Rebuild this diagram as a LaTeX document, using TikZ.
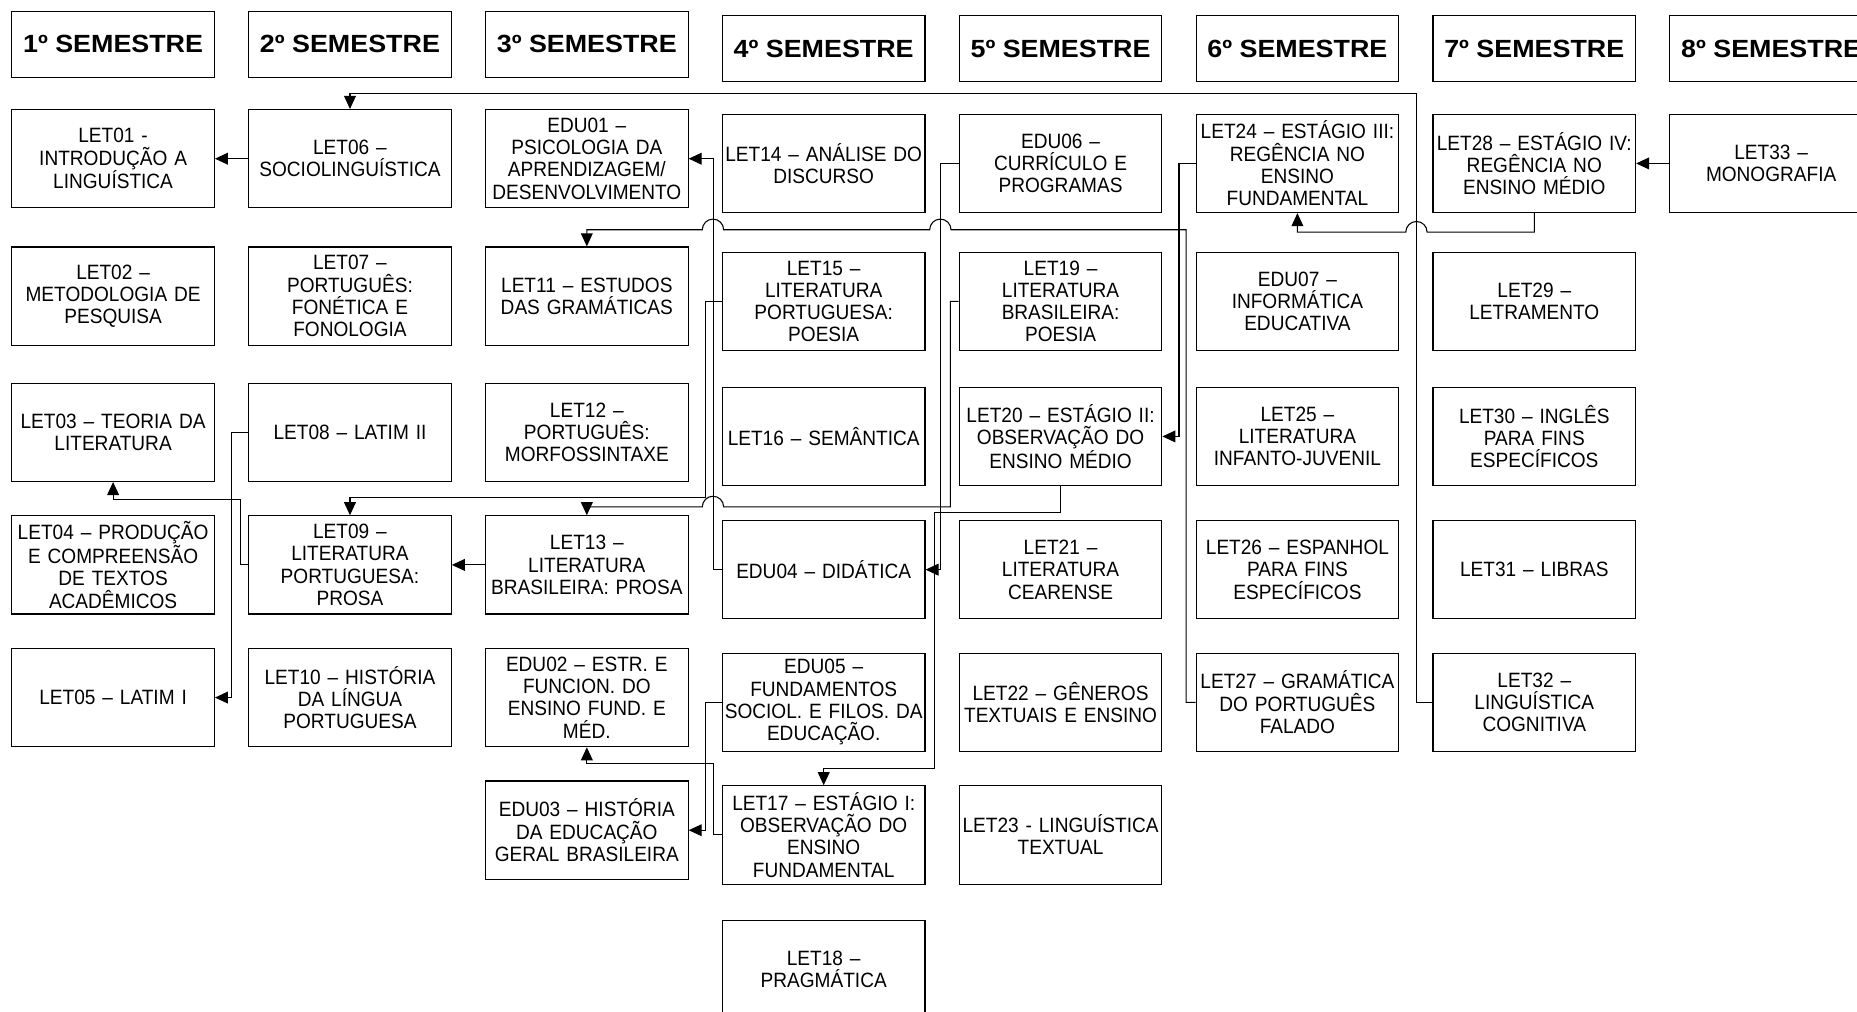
\documentclass[tikz,border=0pt]{standalone}
\usepackage{fontspec}
\setmainfont{Liberation Sans}
\newfontfamily\discfont{Liberation Sans}[FakeStretch=0.92]
\newfontfamily\semfont{Liberation Sans}[FakeStretch=1.08]
\usetikzlibrary{arrows.meta}

\begin{document}
\begin{tikzpicture}[x=1pt,y=-1pt,
    disc/.style={draw,line width=1pt,minimum width=171pt,minimum height=83pt,text width=168pt,inner xsep=1.5pt,align=center,font=\discfont\fontsize{17.5}{18.8}\selectfont},
    sem/.style={draw,line width=1pt,minimum width=171pt,minimum height=56pt,font=\semfont\bfseries\fontsize{21}{24}\selectfont},
    arr/.style={line width=0.9pt,-{Triangle[length=11pt,width=10pt]}}]
                \useasboundingbox (0,0) rectangle (1568,854);
                \clip (0,0) rectangle (1568,854);
                \foreach \n/\x/\y in {1/95.5/37.5,2/295.5/37.5,3/495.5/37.5,4/695.5/41,5/895.5/41,6/1095.5/41,7/1295.5/41,8/1495.5/41}
                    \node[sem] (sem\n) at (\x,\y) {{\n}º SEMESTRE};
                % 1o semestre
                \node[disc] (let01) at (95.5,134) {LET01 -\\INTRODUÇÃO A\\LINGUÍSTICA};
                \node[disc] (let02) at (95.5,250) {LET02 –\\METODOLOGIA DE\\PESQUISA};
                \node[disc] (let03) at (95.5,365) {LET03 – TEORIA DA\\LITERATURA};
                \node[disc] (let04) at (95.5,477) {LET04 – PRODUÇÃO\\E COMPREENSÃO\\DE TEXTOS\\ACADÊMICOS};
                \node[disc] (let05) at (95.5,589) {LET05 – LATIM I};
                % 2o semestre
                \node[disc] (let06) at (295.5,134) {LET06 –\\SOCIOLINGUÍSTICA};
                \node[disc] (let07) at (295.5,250) {LET07 –\\PORTUGUÊS:\\FONÉTICA E\\FONOLOGIA};
                \node[disc] (let08) at (295.5,365) {LET08 – LATIM II};
                \node[disc] (let09) at (295.5,477) {LET09 –\\LITERATURA\\PORTUGUESA:\\PROSA};
                \node[disc] (let10) at (295.5,589) {LET10 – HISTÓRIA\\DA LÍNGUA\\PORTUGUESA};
                % 3o semestre
                \node[disc] (edu01) at (495.5,134) {EDU01 –\\PSICOLOGIA DA\\APRENDIZAGEM/\\DESENVOLVIMENTO};
                \node[disc] (let11) at (495.5,250) {LET11 – ESTUDOS\\DAS GRAMÁTICAS};
                \node[disc] (let12) at (495.5,365) {LET12 –\\PORTUGUÊS:\\MORFOSSINTAXE};
                \node[disc] (let13) at (495.5,477) {LET13 –\\LITERATURA\\BRASILEIRA: PROSA};
                \node[disc] (edu02) at (495.5,589) {EDU02 – ESTR. E\\FUNCION. DO\\ENSINO FUND. E\\MÉD.};
                \node[disc] (edu03) at (495.5,701) {EDU03 – HISTÓRIA\\DA EDUCAÇÃO\\GERAL BRASILEIRA};
                % 4o semestre
                \node[disc] (let14) at (695.5,138) {LET14 – ANÁLISE DO\\DISCURSO};
                \node[disc] (let15) at (695.5,254.5) {LET15 –\\LITERATURA\\PORTUGUESA:\\POESIA};
                \node[disc] (let16) at (695.5,368.5) {LET16 – SEMÂNTICA};
                \node[disc] (edu04) at (695.5,481) {EDU04 – DIDÁTICA};
                \node[disc] (edu05) at (695.5,593) {EDU05 –\\FUNDAMENTOS\\SOCIOL. E FILOS. DA\\EDUCAÇÃO.};
                \node[disc] (let17) at (695.5,705) {LET17 – ESTÁGIO I:\\OBSERVAÇÃO DO\\ENSINO\\FUNDAMENTAL};
                \node[disc] (let18) at (695.5,818.5) {LET18 –\\PRAGMÁTICA};
                % 5o semestre
                \node[disc] (edu06) at (895.5,138) {EDU06 –\\CURRÍCULO E\\PROGRAMAS};
                \node[disc] (let19) at (895.5,254.5) {LET19 –\\LITERATURA\\BRASILEIRA:\\POESIA};
                \node[disc] (let20) at (895.5,368.5) {LET20 – ESTÁGIO II:\\OBSERVAÇÃO DO\\ENSINO MÉDIO};
                \node[disc] (let21) at (895.5,481) {LET21 –\\LITERATURA\\CEARENSE};
                \node[disc] (let22) at (895.5,593) {LET22 – GÊNEROS\\TEXTUAIS E ENSINO};
                \node[disc] (let23) at (895.5,705) {LET23 - LINGUÍSTICA\\TEXTUAL};
                % 6o semestre
                \node[disc] (let24) at (1095.5,138) {LET24 – ESTÁGIO III:\\REGÊNCIA NO\\ENSINO\\FUNDAMENTAL};
                \node[disc] (edu07) at (1095.5,254.5) {EDU07 –\\INFORMÁTICA\\EDUCATIVA};
                \node[disc] (let25) at (1095.5,368.5) {LET25 –\\LITERATURA\\INFANTO-JUVENIL};
                \node[disc] (let26) at (1095.5,481) {LET26 – ESPANHOL\\PARA FINS\\ESPECÍFICOS};
                \node[disc] (let27) at (1095.5,593) {LET27 – GRAMÁTICA\\DO PORTUGUÊS\\FALADO};
                % 7o semestre
                \node[disc] (let28) at (1295.5,138) {LET28 – ESTÁGIO IV:\\REGÊNCIA NO\\ENSINO MÉDIO};
                \node[disc] (let29) at (1295.5,254.5) {LET29 –\\LETRAMENTO};
                \node[disc] (let30) at (1295.5,368.5) {LET30 – INGLÊS\\PARA FINS\\ESPECÍFICOS};
                \node[disc] (let31) at (1295.5,481) {LET31 – LIBRAS};
                \node[disc] (let32) at (1295.5,593) {LET32 –\\LINGUÍSTICA\\COGNITIVA};
                % 8o semestre
                \node[disc] (let33) at (1495.5,138) {LET33 –\\MONOGRAFIA};
                % pre-requisitos
                \draw[arr] (let06.west) -- (let01.east);
                \draw[arr] (let13.west) -- (let09.east);
                \draw[arr] (let33.west) -- (let28.east);
                \draw[arr] (let08.west) -- ++(-14,0) |- (let05.east);
                \draw[arr] (let09.west) -- ++(-6.5,0) |- ([yshift=-15pt]let03.south) -- (let03.south);
                \draw[arr] (let32.west) -| (1196,79) -| (let06.north);
                \draw[arr] (let28.south) |- (1205,196) arc[start angle=0,end angle=-180,radius=9] -| (let24.south);
                \draw[arr] (edu04.west) -- ++(-7,0) |- (edu01.east);
                \draw[arr] (let15.west) -- ++(-14,0) |- ([yshift=15pt]let09.north) -- (let09.north);
                \draw[arr] (let19.west) -- ++(-7,0) |- (611,428) arc[start angle=0,end angle=-180,radius=9] -| (let13.north);
                \draw[arr] (let27.west) -- ++(-8,0) |- (803,194) arc[start angle=0,end angle=-180,radius=9] -- (611,194) arc[start angle=0,end angle=-180,radius=9] -| (let11.north);
                \draw[arr] (let24.west) -- ++(-14,0) |- (let20.east);
                \draw[arr] (edu06.west) -- ++(-15,0) |- (edu04.east);
                \draw[arr] (let20.south) |- (789,433) |- ([yshift=14pt]let17.north) -- (let17.north);
                \draw[arr] (edu05.west) -- ++(-14,0) |- (edu03.east);
                \draw[arr] (let17.west) -- ++(-7,0) |- ([yshift=-14pt]edu02.south) -- (edu02.south);
            \end{tikzpicture}
\end{document}
